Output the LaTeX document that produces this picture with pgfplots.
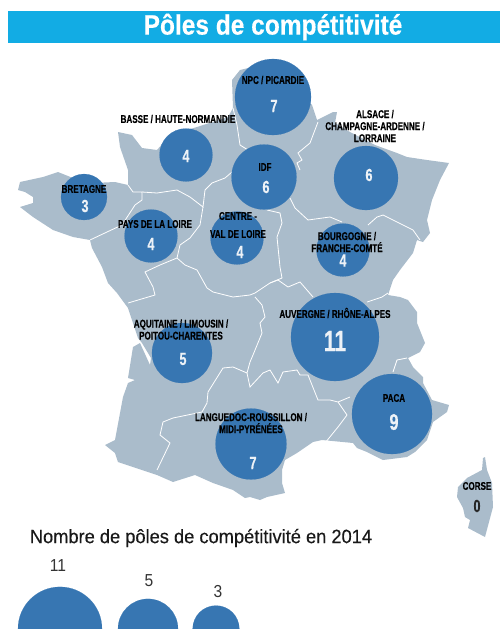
\documentclass[border=0pt]{standalone}
\usepackage{pgfplots}
\pgfplotsset{compat=1.18}
\usepackage{pgfplotstable}
\usepackage{fontspec}
\setmainfont{Liberation Sans}
\newfontfamily\cond[FakeStretch=0.72,FakeBold=0.4]{Liberation Sans}
\newfontfamily\titlef[FakeStretch=0.875,FakeBold=0.3]{Liberation Sans}
\newfontfamily\legf[FakeStretch=0.945,FakeBold=0.3]{Liberation Sans}
\newfontfamily\legn[FakeStretch=0.9]{Liberation Sans}
\definecolor{mapc}{HTML}{AABCCB}
\definecolor{bubble}{HTML}{3776B2}
\definecolor{bar}{HTML}{12ACE4}
\definecolor{numc}{HTML}{EDF2F7}

% bubbles: pixel position, value, radius in pixels
\pgfplotstableread{
x y v r
273 97 7 38
186 155 4 26.5
84 197 3 23
151 236 4 26.5
237 238 4 26.5
264 177 6 32.5
366 178 6 32
343 250 4 26.5
335 337 11 44
392 414 9 40
182 353 5 30
251 444 7 35.5
60 628.9 11 42
148 628.9 5 30
216 628.9 3 23.3
}\bubbles

\pgfplotstableread{
x y v
274 106 7
186 156 4
85 206 3
151 244 4
240 252 4
266 187 6
369 175 6
343 260.5 4
183 359 5
253 463 7
}\valsmall

\begin{document}
\begin{tikzpicture}
\path[use as bounding box] (0,0) rectangle (375pt,471.75pt);
\begin{axis}[scale only axis, width=375pt, height=471.75pt, at={(0,0)}, anchor=south west,
  hide axis, xmin=0, xmax=500, ymin=0, ymax=629, y dir=reverse,
  after end axis/.code={
    \begin{scope}[every node/.style={font=\cond\bfseries\fontsize{8.4}{9}\selectfont, text=black, align=center, inner sep=0pt}]
    \node at (axis cs:273,80) {NPC / PICARDIE};
    \node at (axis cs:178,119) {BASSE / HAUTE-NORMANDIE};
    \node at (axis cs:375,126) {ALSACE /\\CHAMPAGNE-ARDENNE /\\LORRAINE};
    \node at (axis cs:84,189) {BRETAGNE};
    \node at (axis cs:155,224) {PAYS DE LA LOIRE};
    \node at (axis cs:238,216) {CENTRE -};
    \node at (axis cs:238,234) {VAL DE LOIRE};
    \node at (axis cs:265,167) {IDF};
    \node at (axis cs:347,242) {BOURGOGNE /\\FRANCHE-COMTÉ};
    \node at (axis cs:335,313) {AUVERGNE / RHÔNE-ALPES};
    \node at (axis cs:394,398) {PACA};
    \node at (axis cs:181,329.5) {AQUITAINE / LIMOUSIN /\\POITOU-CHARENTES};
    \node at (axis cs:251,423) {LANGUEDOC-ROUSSILLON /\\MIDI-PYRÉNÉES};
    \node at (axis cs:477,486) {CORSE};
    \end{scope}
    \node[font=\titlef\bfseries\fontsize{21}{21}\selectfont, text=white, inner sep=0pt] at (axis cs:273,27) {Pôles de compétitivité};
    \node[font=\legf\fontsize{14.5}{14.5}\selectfont, text=black!90, inner sep=0pt] at (axis cs:201,538) {Nombre de pôles de compétitivité en 2014};
    \node[font=\legn\fontsize{13}{13}\selectfont, text=black!80, inner sep=0pt] at (axis cs:58,566) {11};
    \node[font=\legn\fontsize{13}{13}\selectfont, text=black!80, inner sep=0pt] at (axis cs:149,581) {5};
    \node[font=\legn\fontsize{13}{13}\selectfont, text=black!80, inner sep=0pt] at (axis cs:218,592) {3};
  }]
% title band
\addplot[fill=bar, draw=none] coordinates {(8,11) (500,11) (500,43) (8,43)};
% mainland
\addplot[fill=mapc, draw=none] coordinates {
(240,70) (273,62) (312,105) (317,120) (333,112) (337,112) (335,123) (350,132) (375,145) (397,153) (407,157) (427,160) (449,163)
(440,180) (432,200) (427,220) (430,233) (423,242) (417,240) (413,253) (400,270) (393,280) (388,295)
(400,297) (408,300) (417,312) (417,323) (425,343) (420,352) (408,358) (413,367) (423,377) (423,383)
(432,400) (449,405) (447,412) (433,422) (427,440) (415,452) (407,457) (383,460) (367,452) (357,448) (353,443)
(322,440) (313,442) (297,453) (285,460) (282,470) (282,483) (285,493) (267,497) (260,500) (250,497) (245,498)
(233,490) (213,483) (195,475) (173,482) (157,475) (133,467) (118,462) (115,453) (105,445) (115,440)
(123,397) (128,383) (135,380) (128,378) (133,347) (140,343) (150,365) (151,358) (142,343)
(138,338) (133,323) (128,308) (117,293) (108,283) (102,267) (92,248) (90,240)
(73,237) (53,230) (33,217) (20,207) (33,203) (33,197) (25,192) (18,190) (20,182) (43,177) (58,172) (78,180) (93,183) (115,182) (128,185)
(128,170) (120,147) (118,132) (132,135) (142,148) (157,150) (170,135) (197,127) (228,117) (233,108) (232,80)};
% corsica
\addplot[fill=mapc, draw=none] coordinates {
(485,457) (487,470) (492,483) (493,507) (485,537) (468,528) (470,520) (465,517) (463,508) (457,497) (458,487) (467,478) (482,470) (483,458)};
% region borders
\addplot[white, line width=0.6pt] coordinates {(90,240) (107,232) (122,225) (135,205) (142,200) (142,192) (133,192) (128,185)};
\addplot[white, line width=0.6pt] coordinates {(142,192) (157,193) (177,190) (190,197) (203,207) (205,190) (212,183) (225,178) (232,172)};
\addplot[white, line width=0.6pt] coordinates {(233,108) (237,125) (240,145) (248,150)};
\addplot[white, line width=0.6pt] coordinates {(203,207) (200,225) (190,238) (180,245) (177,258) (160,265) (145,272) (153,287) (155,295) (128,303)};
\addplot[white, line width=0.6pt] coordinates {(177,258) (185,265) (197,270) (207,288) (213,292) (233,297) (250,295) (255,293) (270,283) (282,278) (280,267) (277,237) (282,223) (280,213) (267,210)};
\addplot[white, line width=0.6pt] coordinates {(255,297) (262,305) (265,317) (260,323) (262,333) (253,355) (250,362) (247,373) (233,367) (223,368) (208,392) (207,403) (202,412) (173,418) (163,422) (160,435) (170,443) (157,470)};
\addplot[white, line width=0.6pt] coordinates {(270,283) (278,280) (288,287) (300,282) (313,297)};
\addplot[white, line width=0.6pt] coordinates {(367,302) (382,297) (388,293)};
\addplot[white, line width=0.6pt] coordinates {(290,198) (295,208) (308,220) (330,217) (342,222)};
\addplot[white, line width=0.6pt] coordinates {(368,225) (377,217) (383,215) (413,230) (420,240)};
\addplot[white, line width=0.6pt] coordinates {(318,122) (310,143) (298,153) (302,160) (297,163) (300,170)};
\addplot[white, line width=0.6pt] coordinates {(247,373) (250,387) (263,373) (270,370) (278,383) (283,372) (297,370) (300,375) (308,375) (318,400) (330,400) (338,402) (347,415) (338,427) (325,443)};
\addplot[white, line width=0.6pt] coordinates {(338,402) (350,397)};
\addplot[white, line width=0.6pt] coordinates {(393,372) (397,360) (407,358)};
% bubbles
\addplot[scatter, only marks, mark=*, draw=none,
  scatter/use mapped color={fill=bubble, draw=bubble, line width=0.1pt},
  visualization depends on={0.75*\thisrow{r}\as\rad},
  scatter/@pre marker code/.append style={/tikz/mark size=\rad}] table[x=x, y=y] {\bubbles};
% values
\addplot[draw=none, mark=none, point meta=explicit symbolic, nodes near coords,
  every node near coord/.append style={anchor=center, inner sep=0pt, text=numc, font=\cond\bfseries\fontsize{13.2}{14}\selectfont}]
  table[x=x, y=y, meta=v] {\valsmall};
\addplot[draw=none, mark=none, point meta=explicit symbolic, nodes near coords,
  every node near coord/.append style={anchor=center, inner sep=0pt, text=numc, font=\cond\bfseries\fontsize{17}{17}\selectfont}]
  table[x=x, y=y, meta=v] {
x y v
394 422 9
};
\addplot[draw=none, mark=none, point meta=explicit symbolic, nodes near coords,
  every node near coord/.append style={anchor=center, inner sep=0pt, text=numc, font=\cond\bfseries\fontsize{22}{22}\selectfont}]
  table[x=x, y=y, meta=v] {
x y v
335 341 11
};
\addplot[draw=none, mark=none, point meta=explicit symbolic, nodes near coords,
  every node near coord/.append style={anchor=center, inner sep=0pt, text=black!85, font=\cond\bfseries\fontsize{13.2}{14}\selectfont}]
  table[x=x, y=y, meta=v] {
x y v
477 506 0
};
\end{axis}
\end{tikzpicture}
\end{document}
